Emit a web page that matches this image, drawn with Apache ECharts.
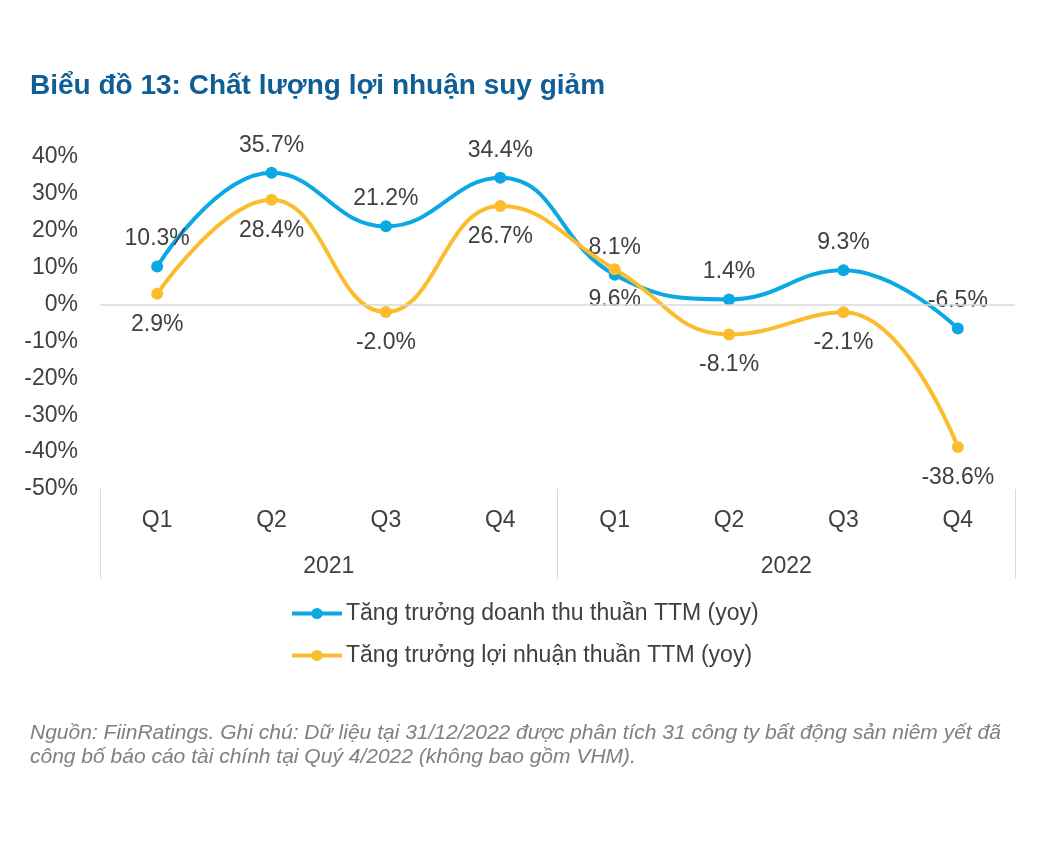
<!DOCTYPE html>
<html>
<head>
<meta charset="utf-8">
<script src="https://cdn.jsdelivr.net/npm/echarts@6/dist/echarts.min.js"></script>
<style>
html,body{margin:0;padding:0;background:#fff;}
#c{width:1058px;height:854px;}
</style>
</head>
<body>
<div id="c"></div>
<script>
const quarters = ['Q1','Q2','Q3','Q4','Q1','Q2','Q3','Q4'];
const years = ['2021','2022'];
const revenueGrowth = [10.3, 35.7, 21.2, 34.4, 8.1, 1.4, 9.3, -6.5];
const profitGrowth = [2.9, 28.4, -2.0, 26.7, 9.6, -8.1, -2.1, -38.6];
const seriesNames = ['Tăng trưởng doanh thu thuần TTM (yoy)', 'Tăng trưởng lợi nhuận thuần TTM (yoy)'];

const FONT = '"Liberation Sans", Arial, sans-serif';
const TXT = '#404040';
const BLUE = '#0BA8E4';
const GOLD = '#FBBD2E';
const FS = 23;
const chart = echarts.init(document.getElementById('c'));
chart.setOption({
  animation: false,
  backgroundColor: '#fff',
  textStyle: { fontFamily: FONT },
  title: [{
    text: 'Biểu đồ 13: Chất lượng lợi nhuận suy giảm',
    left: 25, top: 67,
    textStyle: { fontFamily: FONT, fontSize: 28, fontWeight: 'bold', color: '#0F5F96' }
  }, {
    text: 'Nguồn: FiinRatings. Ghi chú: Dữ liệu tại 31/12/2022 được phân tích 31 công ty bất động sản niêm yết đã\ncông bố báo cáo tài chính tại Quý 4/2022 (không bao gồm VHM).',
    left: 25, top: 716,
    textStyle: { fontFamily: FONT, fontSize: 21, fontStyle: 'italic', fontWeight: 'normal', color: '#808080', lineHeight: 24 }
  }],
  grid: { left: 100, right: 43, top: 157, bottom: 365 },
  legend: {
    orient: 'vertical', left: 285, top: 597,
    itemWidth: 50, itemHeight: 14, itemGap: 19,
    lineStyle: { width: 4 },
    textStyle: { fontFamily: FONT, fontSize: FS, color: TXT, padding: [0, 0, 0, -1] },
    data: seriesNames
  },
  xAxis: [{
    type: 'category', data: quarters, position: 'bottom',
    axisLine: { show: false, onZero: false },
    axisTick: { show: false },
    axisLabel: { fontFamily: FONT, fontSize: FS, color: TXT, margin: 20 }
  }, {
    type: 'category', data: years, position: 'bottom', offset: 0,
    axisLine: { show: false, onZero: false },
    axisTick: { show: true, length: 90, lineStyle: { color: '#d9d9d9', width: 1 } },
    axisLabel: { fontFamily: FONT, fontSize: FS, color: TXT, margin: 66 }
  }],
  yAxis: {
    type: 'value', min: -50, max: 40, interval: 10,
    splitLine: { show: false },
    axisLine: { show: false }, axisTick: { show: false },
    axisLabel: { fontFamily: FONT, fontSize: FS, color: TXT, margin: 22, formatter: v => v + '%' }
  },
  series: [{
    name: seriesNames[0], type: 'line', data: revenueGrowth, smooth: 0.45,
    symbol: 'circle', symbolSize: 12,
    itemStyle: { color: BLUE },
    lineStyle: { width: 4, color: BLUE },
    label: { show: true, position: 'top', distance: 10, fontFamily: FONT, fontSize: FS, color: TXT, formatter: p => p.value.toFixed(1) + '%' },
    markLine: {
      silent: true, symbol: 'none', label: { show: false },
      lineStyle: { color: '#d9d9d9', width: 1.5, type: 'solid' },
      data: [{ yAxis: 0 }]
    },
    z: 3
  }, {
    name: seriesNames[1], type: 'line', data: profitGrowth, smooth: 0.45,
    symbol: 'circle', symbolSize: 12,
    itemStyle: { color: GOLD },
    lineStyle: { width: 4, color: GOLD },
    label: { show: true, position: 'bottom', distance: 13, fontFamily: FONT, fontSize: FS, color: TXT, formatter: p => p.value.toFixed(1) + '%' },
    z: 4
  }]
});
</script>
</body>
</html>
